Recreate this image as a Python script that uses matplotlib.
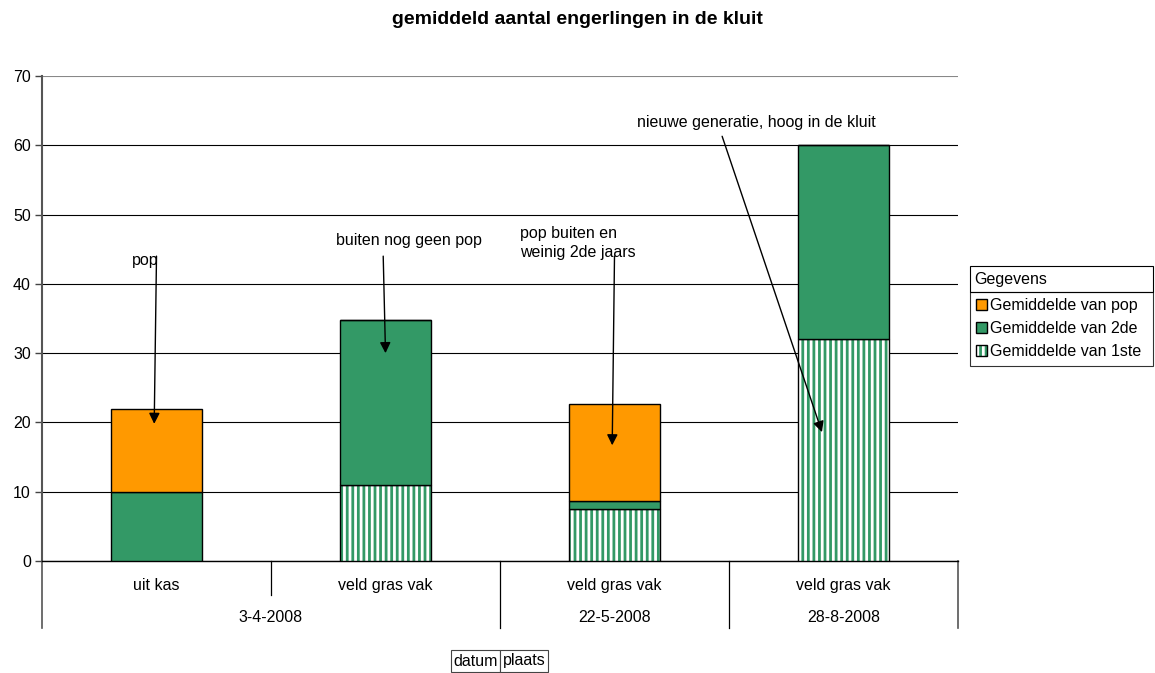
import matplotlib
matplotlib.use("Agg")
import matplotlib.pyplot as plt
from matplotlib.patches import Patch, Rectangle
from matplotlib.legend_handler import HandlerTuple
from matplotlib.transforms import blended_transform_factory
import numpy as np

plt.rcParams['font.family'] = ['Liberation Sans', 'DejaVu Sans']
plt.rcParams['hatch.linewidth'] = 2.0

# ---- data ----
plaats = ["uit kas", "veld gras vak", "veld gras vak", "veld gras vak"]
datum_labels = ["3-4-2008", "22-5-2008", "28-8-2008"]
datum_centers = [0.5, 2, 3]          # group centers in category units
eerste = [0, 11, 7.5, 32]            # Gemiddelde van 1ste
tweede = [10, 23.8, 1.1, 28]         # Gemiddelde van 2de
pop = [12, 0, 14, 0]                 # Gemiddelde van pop
title = "gemiddeld aantal engerlingen in de kluit"

annotations = [
    ("pop", (0.0, 44.0), (-0.01, 19.8), (-0.107, 43.4)),
    ("buiten nog geen pop", (0.99, 44.0), (1.0, 30.0), (0.784, 46.2)),
    ("pop buiten en\nweinig 2de jaars", (2.0, 44.0), (1.99, 16.7), (1.587, 45.9)),
    ("nieuwe generatie, hoog in de kluit", (2.47, 61.3), (2.906, 18.6), (2.10, 63.3)),
]

ORANGE = "#FF9900"
GREEN = "#339966"
FS = 11.5

fig = plt.figure(figsize=(11.55, 6.73), dpi=100)
ax = fig.add_axes([42/1155, 1-561/673, 916/1155, 485/673])

x = np.arange(len(plaats))
w = 0.4
e = np.array(eerste); t = np.array(tweede); p = np.array(pop)

# 1ste: hatched vertical stripes
ax.bar(x, e, w, color="white", edgecolor=GREEN, hatch="|||", linewidth=0, zorder=3)
ax.bar(x, e, w, fill=False, edgecolor="black", linewidth=1.0, zorder=4)
ax.bar(x, t, w, bottom=e, color=GREEN, edgecolor="black", linewidth=1.0, zorder=4)
ax.bar(x, p, w, bottom=e+t, color=ORANGE, edgecolor="black", linewidth=1.0, zorder=4)

ax.set_xlim(-0.5, len(plaats)-0.5)
ax.set_ylim(0, 70)
ax.set_yticks(range(0, 71, 10))
ax.tick_params(axis='y', length=5, width=1, labelsize=FS, pad=3, color="#444444")
ax.set_axisbelow(True)
ax.yaxis.grid(True, color="black", linewidth=0.8)
gls = ax.get_ygridlines()
gls[-1].set_color("#888888")
for s in ["top", "right"]:
    ax.spines[s].set_visible(False)
ax.spines["left"].set_color("#555555")
ax.spines["left"].set_linewidth(1.5)
ax.spines["bottom"].set_color("black")
ax.spines["bottom"].set_linewidth(1.0)

# category labels (two levels)
ax.set_xticks(x)
ax.set_xticklabels([])
ax.tick_params(axis='x', length=0)
tr = blended_transform_factory(ax.transData, ax.transAxes)
for xi, lab in zip(x, plaats):
    ax.text(xi, -0.0495, lab, transform=tr, ha='center', va='center', fontsize=FS)
for xc, lab in zip(datum_centers, datum_labels):
    ax.text(xc, -0.1175, lab, transform=tr, ha='center', va='center', fontsize=FS)
sep_x = [-0.5, 0.5, 1.5, 2.5, 3.5]
sep_len = [-0.138, -0.070, -0.138, -0.138, -0.138]
for sx, sl in zip(sep_x, sep_len):
    col = "#555555" if sx in (-0.5, 3.5) else "black"
    ax.plot([sx, sx], [0, sl], transform=tr, color=col, lw=1.2 if col != "black" else 0.9,
            clip_on=False)

# annotations
for txt, start, end, tpos in annotations:
    ax.annotate("", xy=end, xytext=start,
                arrowprops=dict(arrowstyle="-|>", color="black", lw=1.0,
                                mutation_scale=16, shrinkA=0, shrinkB=0), zorder=6)
    ax.text(tpos[0], tpos[1], txt, ha='left', va='center', fontsize=FS, zorder=6,
            linespacing=1.4)

# title
fig.text(0.5, 1-20/673, title, ha='center', va='center', fontsize=14, fontweight='bold')

# legend
h1 = Patch(facecolor=ORANGE, edgecolor="black")
h2 = Patch(facecolor=GREEN, edgecolor="black")
h3a = Patch(facecolor="white", edgecolor=GREEN, hatch="|||", linewidth=0)
h3b = Patch(fill=False, edgecolor="black")
leg = ax.legend([h1, h2, (h3a, h3b)],
                ["Gemiddelde van pop", "Gemiddelde van 2de", "Gemiddelde van 1ste"],
                handler_map={tuple: HandlerTuple(ndivide=1)},
                loc='upper left', bbox_to_anchor=(970/1155, 1-365/673, 183/1155, 73/673),
                bbox_transform=fig.transFigure, mode='expand', frameon=True, fancybox=False,
                edgecolor="black", fontsize=FS, handlelength=0.65, handleheight=0.65,
                handletextpad=0.2, borderpad=0.4, labelspacing=0.5, borderaxespad=0)
leg.get_frame().set_linewidth(0.8)
fig.patches.append(Rectangle((970/1155, 1-292/673), 183/1155, 26/673,
                             transform=fig.transFigure, fill=False, edgecolor="black",
                             linewidth=0.8))
fig.text(974/1155, 1-279/673, "Gegevens", ha='left', va='center', fontsize=FS)

# field buttons
for x0, x1, lab in [(451, 500, "datum"), (500, 548, "plaats")]:
    fig.patches.append(Rectangle((x0/1155, 1-672/673), (x1-x0)/1155, 22/673,
                                 transform=fig.transFigure, facecolor="white",
                                 edgecolor="#444444", linewidth=0.8))
    fig.text((x0+x1)/2/1155, 1-661/673, lab, ha='center', va='center', fontsize=FS)

fig.savefig("out.png", dpi=100)
